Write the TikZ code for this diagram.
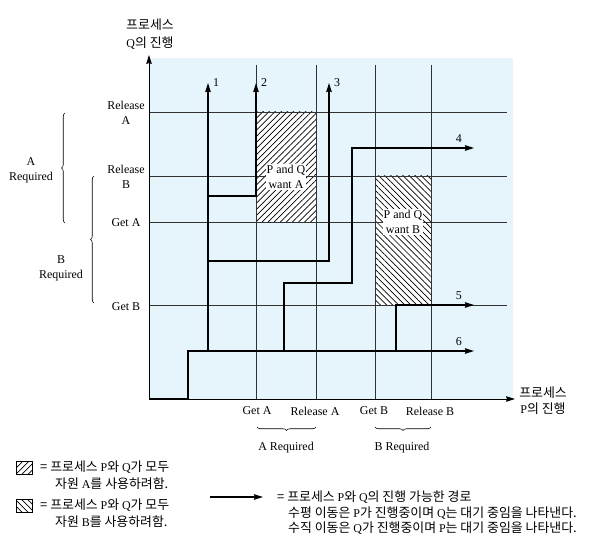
\documentclass[tikz,border=0pt]{standalone}
\usepackage{fontspec}
\setmainfont{Liberation Serif}
\newfontfamily\kr[Scale=1.08]{Noto Sans CJK KR}
\usetikzlibrary{arrows.meta,patterns.meta,decorations.pathreplacing,positioning}
\definecolor{paleblue}{RGB}{230,244,252}
\definecolor{gridgray}{RGB}{50,50,50}

\begin{document}
\begin{tikzpicture}[x=1bp,y=-1bp,
  font=\fontsize{12}{15}\selectfont,
  gridln/.style={gridgray,line width=0.9bp},
  route/.style={line width=1.8bp},
  tip/.style={-{Stealth[length=9bp,width=5.5bp,inset=1bp]}},
  hatchA/.style={preaction={fill=white},pattern={Lines[angle=45,distance=4.3bp,line width=0.7bp]}},
  hatchB/.style={preaction={fill=white},pattern={Lines[angle=-45,distance=4.3bp,line width=0.7bp]}},
  brc/.style={decorate,decoration={brace,amplitude=3.5bp},line width=0.6bp},
  lbl/.style={align=center,inner sep=1bp}]
\useasboundingbox (0,0) rectangle (592,557);

% plane
\fill[paleblue] (149,58) rectangle (513,399);
\fill[hatchA] (256,112) rectangle (316,222);
\fill[hatchB] (375,176) rectangle (431,305);
\foreach \y in {112,176,222,305} \draw[gridln] (149,\y) -- (507,\y);
\foreach \x in {256,316,375,431} \draw[gridln] (\x,65) -- (\x,399);

\node[lbl,fill=white] (wantA) at (286,177) {P and Q\\want A};
\node[lbl,fill=white] (wantB) at (403,222) {P and Q\\want B};

% axes
\coordinate (O) at (149,399);
\draw[line width=1bp,tip] (O) -- (149,55);
\draw[line width=1bp,tip] (O) -- (515,399);
\node[lbl,font=\fontsize{12}{18}\selectfont] (qaxis) at (150,34) {{\kr 프로세스}\\Q{\kr 의 진행}};
\node[lbl,font=\fontsize{12}{16}\selectfont] (paxis) at (543,401) {{\kr 프로세스}\\P{\kr 의 진행}};

% event labels
\node[lbl] (relA) at (126,113) {Release\\A};
\node[lbl] (relB) at (126,177) {Release\\B};
\node[lbl] (getA) at (126,223) {Get A};
\node[lbl] (getB) at (126,307) {Get B};
\node[lbl] (pgetA) at (257,411) {Get A};
\node[lbl] (prelA) at (315,411) {Release A};
\node[lbl] (pgetB) at (374,411) {Get B};
\node[lbl] (prelB) at (430,411) {Release B};

% required ranges
\draw[brc] (65,223) -- (65,113);
\draw[brc] (94,303) -- (94,176);
\node[lbl] (reqA) at (31,170) {A\\Required};
\node[lbl] (reqB) at (61,268) {B\\Required};
\draw[brc] (316,427) -- (257,427);
\draw[brc] (431,427) -- (375,427);
\node[lbl] (preqA) at (286,448) {A Required};
\node[lbl] (preqB) at (402,448) {B Required};

% paths
\draw[route,tip] (O) -- (188,399) -- (188,351) -- (474,351) node[above left=1bp and 8bp] (n6) {6};
\draw[route,tip] (208,351) -- (208,83) node[right=1bp] (n1) {1};
\draw[route,tip] (208,196) -- (256,196) -- (256,83) node[right=1bp] (n2) {2};
\draw[route,tip] (208,261) -- (329,261) -- (329,83) node[right=1bp] (n3) {3};
\draw[route,tip] (284,351) -- (284,283) -- (352,283) -- (352,148) -- (474,148) node[above left=1bp and 8bp] (n4) {4};
\draw[route,tip] (396,351) -- (396,305) -- (474,305) node[above left=1bp and 8bp] (n5) {5};

% legend
\draw[line width=0.6bp,hatchA] (16,461) rectangle (32,474);
\draw[line width=0.6bp,hatchB] (16,499) rectangle (32,512);
\node[anchor=west,inner sep=0] (legA1) at (40,467) {{\kr = 프로세스 }P{\kr 와 }Q{\kr 가 모두}};
\node[anchor=west,inner sep=0] (legA2) at (55,484) {{\kr 자원 }A{\kr 를 사용하려함.}};
\node[anchor=west,inner sep=0] (legB1) at (40,505) {{\kr = 프로세스 }P{\kr 와 }Q{\kr 가 모두}};
\node[anchor=west,inner sep=0] (legB2) at (55,522) {{\kr 자원 }B{\kr 를 사용하려함.}};

\coordinate (la) at (210,497);
\coordinate (lb) at (263,497);
\draw[route,tip] (la) -- (lb);
\node[anchor=west,inner sep=0] (legP1) at (277,497) {{\kr = 프로세스 }P{\kr 와 }Q{\kr 의 진행 가능한 경로}};
\node[anchor=west,inner sep=0] (legP2) at (288,513) {{\kr 수평 이동은 }P{\kr 가 진행중이며 }Q{\kr 는 대기 중임을 나타낸다.}};
\node[anchor=west,inner sep=0] (legP3) at (288,528) {{\kr 수직 이동은 }Q{\kr 가 진행중이며 }P{\kr 는 대기 중임을 나타낸다.}};
\end{tikzpicture}
\end{document}
